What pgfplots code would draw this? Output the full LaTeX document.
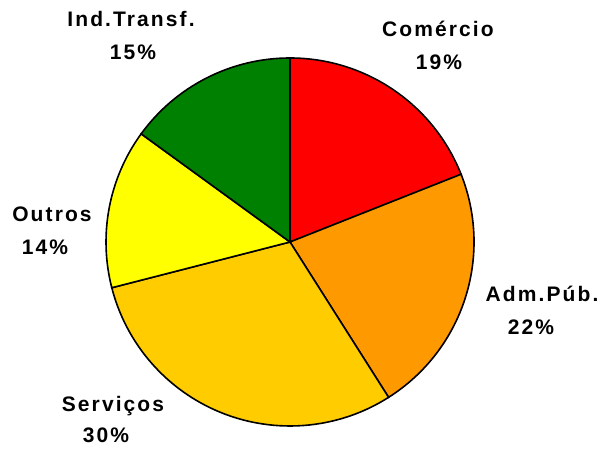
\documentclass[border=0pt]{standalone}
\usepackage{fontspec}
\setmainfont{Liberation Sans}[LetterSpace=10]
\usepackage{pgfplots}
\pgfplotsset{compat=1.18}
\definecolor{cCom}{HTML}{FF0000}
\definecolor{cAdm}{HTML}{FF9900}
\definecolor{cSer}{HTML}{FFCC00}
\definecolor{cOut}{HTML}{FFFF00}
\definecolor{cInd}{HTML}{008000}
\begin{document}
\begin{tikzpicture}
\begin{axis}[scale only axis, width=304pt, height=224pt,
  xmin=0, xmax=608, ymin=0, ymax=448, hide axis, clip=false]
\path (rel axis cs:0,0) rectangle (rel axis cs:1,1);
% percentages: Comercio 19, Adm.Pub 22, Servicos 30, Outros 14, Ind.Transf 15
\filldraw[fill=cCom, draw=black, line width=0.8pt] (axis cs:290,206) -- ++(90:92pt) arc[start angle=90, delta angle=-19*3.6, radius=92pt] -- cycle;
\filldraw[fill=cAdm, draw=black, line width=0.8pt] (axis cs:290,206) -- ++(21.6:92pt) arc[start angle=21.6, delta angle=-22*3.6, radius=92pt] -- cycle;
\filldraw[fill=cSer, draw=black, line width=0.8pt] (axis cs:290,206) -- ++(-57.6:92pt) arc[start angle=-57.6, delta angle=-30*3.6, radius=92pt] -- cycle;
\filldraw[fill=cOut, draw=black, line width=0.8pt] (axis cs:290,206) -- ++(-165.6:92pt) arc[start angle=-165.6, delta angle=-14*3.6, radius=92pt] -- cycle;
\filldraw[fill=cInd, draw=black, line width=0.8pt] (axis cs:290,206) -- ++(-216:92pt) arc[start angle=-216, delta angle=-15*3.6, radius=92pt] -- cycle;
\tikzset{lab/.style={anchor=base, inner sep=0pt, font=\fontsize{10.5}{12}\selectfont\bfseries}}
\node[lab] at (axis cs:438,411) {Comércio};
\node[lab] at (axis cs:439,378) {19\%};
\node[lab] at (axis cs:542,146) {Adm.Púb.};
\node[lab] at (axis cs:531,113) {22\%};
\node[lab] at (axis cs:113,36) {Serviços};
\node[lab] at (axis cs:106,5) {30\%};
\node[lab] at (axis cs:52,226) {Outros};
\node[lab] at (axis cs:45,193) {14\%};
\node[lab] at (axis cs:131,421) {Ind.Transf.};
\node[lab] at (axis cs:133,388) {15\%};
\end{axis}
\end{tikzpicture}
\end{document}
